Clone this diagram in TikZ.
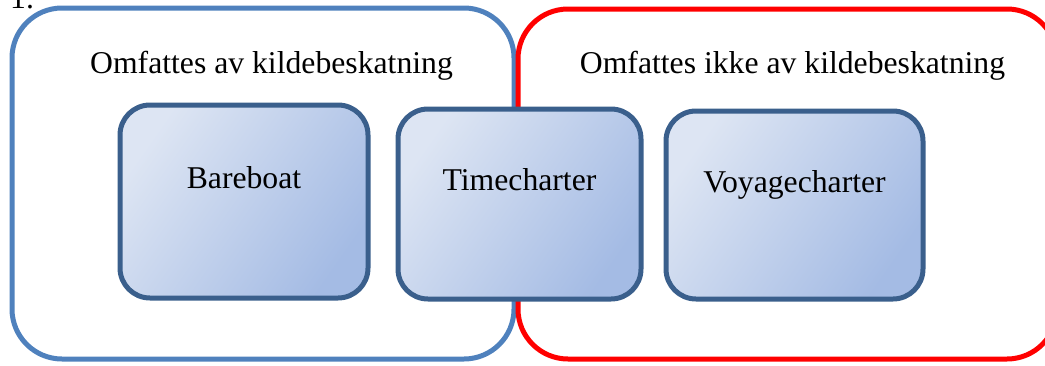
\documentclass[tikz,border=0pt]{standalone}
\usepackage{fontspec}
\setmainfont{Liberation Serif}
\definecolor{outerblue}{HTML}{4F81BD}
\definecolor{outerred}{HTML}{FF0000}
\definecolor{boxborder}{HTML}{3A5F8C}
\definecolor{boxlight}{HTML}{DDE5F3}
\definecolor{boxdark}{HTML}{A4BBE4}
\begin{document}
\begin{tikzpicture}[x=1pt,y=-1pt,
  bigtext/.style={font=\fontsize{31.7}{38}\selectfont, inner sep=0pt, anchor=base},
  group/.style={line width=5pt, rounded corners=50pt},
  itembox/.style={draw=boxborder, line width=5pt, rounded corners=30pt,
    top color=boxlight, bottom color=boxdark, shading angle=55}]
\useasboundingbox (0,0) rectangle (1045,365);
% outer groups
\draw[group, draw=outerblue] (12,8) rectangle (514,359);
\draw[group, draw=outerred] (518,9) rectangle (1057,359);
% headings
\node[bigtext] (h1) at (271.5,73) {Omfattes av kildebeskatning};
\node[bigtext] (h2) at (792.5,73) {Omfattes ikke av kildebeskatning};
% stray numbering, clipped by the page as in the reference
\node[bigtext, anchor=base west] (num) at (10,8) {1.};
% items
\path[itembox] (120,105) rectangle (368,298);
\node[bigtext] (b1) at (244,188) {Bareboat};
\path[itembox] (398,109) rectangle (641,299);
\node[bigtext] (b2) at (519.5,190) {Timecharter};
\path[itembox] (666,111) rectangle (923,299);
\node[bigtext] (b3) at (794.5,192) {Voyagecharter};
\end{tikzpicture}
\end{document}
